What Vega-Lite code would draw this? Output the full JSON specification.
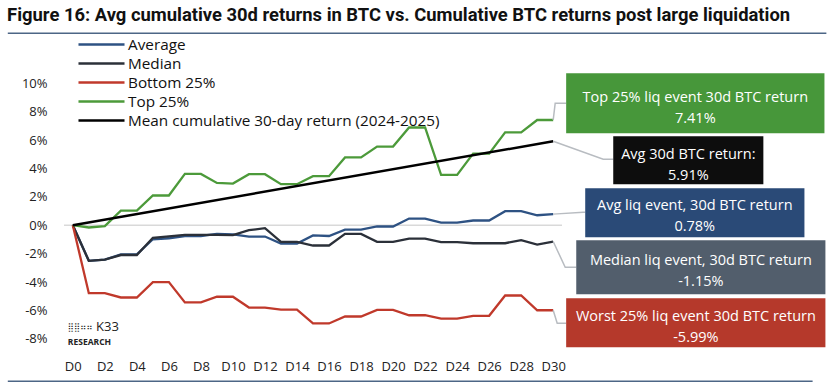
{
  "$schema": "https://vega.github.io/schema/vega-lite/v6.json",
  "width": 498,
  "height": 284,
  "autosize": {"type": "none"},
  "padding": {"left": 64, "top": 69, "right": 272, "bottom": 37},
  "background": "white",
  "title": {
    "text": "Figure 16: Avg cumulative 30d returns in BTC vs. Cumulative BTC returns post large liquidation",
    "anchor": "start",
    "frame": "bounds",
    "font": "Roboto",
    "fontSize": 18.4,
    "fontWeight": "bold",
    "color": "#111111",
    "offset": 8
  },
  "config": {
    "view": {"stroke": null},
    "font": "Open Sans",
    "axis": {"labelFont": "Open Sans", "labelFontSize": 13, "labelColor": "#222222", "labelOverlap": false}
  },
  "datasets": {
    "series": [
      {"day": 0, "Average": 0, "Median": 0, "Bottom 25%": 0, "Top 25%": 0},
      {"day": 1, "Average": -2.51, "Median": -2.51, "Bottom 25%": -4.79, "Top 25%": -0.16},
      {"day": 2, "Average": -2.42, "Median": -2.42, "Bottom 25%": -4.79, "Top 25%": -0.07},
      {"day": 3, "Average": -2.06, "Median": -2.1, "Bottom 25%": -5.09, "Top 25%": 1.03},
      {"day": 4, "Average": -2.06, "Median": -2.1, "Bottom 25%": -5.09, "Top 25%": 1.03},
      {"day": 5, "Average": -0.99, "Median": -0.89, "Bottom 25%": -4.01, "Top 25%": 2.09},
      {"day": 6, "Average": -0.92, "Median": -0.78, "Bottom 25%": -4.01, "Top 25%": 2.09},
      {"day": 7, "Average": -0.76, "Median": -0.68, "Bottom 25%": -5.44, "Top 25%": 3.61},
      {"day": 8, "Average": -0.76, "Median": -0.68, "Bottom 25%": -5.44, "Top 25%": 3.61},
      {"day": 9, "Average": -0.61, "Median": -0.68, "Bottom 25%": -5.04, "Top 25%": 2.98},
      {"day": 10, "Average": -0.65, "Median": -0.7, "Bottom 25%": -5.04, "Top 25%": 2.93},
      {"day": 11, "Average": -0.8, "Median": -0.35, "Bottom 25%": -5.8, "Top 25%": 3.59},
      {"day": 12, "Average": -0.8, "Median": -0.21, "Bottom 25%": -5.8, "Top 25%": 3.59},
      {"day": 13, "Average": -1.29, "Median": -1.17, "Bottom 25%": -5.94, "Top 25%": 2.89},
      {"day": 14, "Average": -1.29, "Median": -1.17, "Bottom 25%": -5.94, "Top 25%": 2.89},
      {"day": 15, "Average": -0.72, "Median": -1.43, "Bottom 25%": -6.92, "Top 25%": 3.45},
      {"day": 16, "Average": -0.76, "Median": -1.43, "Bottom 25%": -6.92, "Top 25%": 3.45},
      {"day": 17, "Average": -0.31, "Median": -0.61, "Bottom 25%": -6.43, "Top 25%": 4.77},
      {"day": 18, "Average": -0.31, "Median": -0.61, "Bottom 25%": -6.43, "Top 25%": 4.77},
      {"day": 19, "Average": -0.09, "Median": -1.17, "Bottom 25%": -5.96, "Top 25%": 5.54},
      {"day": 20, "Average": -0.09, "Median": -1.17, "Bottom 25%": -5.96, "Top 25%": 5.54},
      {"day": 21, "Average": 0.47, "Median": -0.94, "Bottom 25%": -6.34, "Top 25%": 6.88},
      {"day": 22, "Average": 0.47, "Median": -0.94, "Bottom 25%": -6.34, "Top 25%": 6.88},
      {"day": 23, "Average": 0.18, "Median": -1.19, "Bottom 25%": -6.58, "Top 25%": 3.54},
      {"day": 24, "Average": 0.18, "Median": -1.19, "Bottom 25%": -6.58, "Top 25%": 3.54},
      {"day": 25, "Average": 0.33, "Median": -1.27, "Bottom 25%": -6.38, "Top 25%": 5.04},
      {"day": 26, "Average": 0.33, "Median": -1.27, "Bottom 25%": -6.38, "Top 25%": 5.04},
      {"day": 27, "Average": 0.99, "Median": -1.27, "Bottom 25%": -4.95, "Top 25%": 6.54},
      {"day": 28, "Average": 0.99, "Median": -1.05, "Bottom 25%": -4.95, "Top 25%": 6.54},
      {"day": 29, "Average": 0.7, "Median": -1.36, "Bottom 25%": -5.99, "Top 25%": 7.41},
      {"day": 30, "Average": 0.78, "Median": -1.15, "Bottom 25%": -5.99, "Top 25%": 7.41}
    ],
    "mean": [
      {"day": 0, "series": "Mean cumulative 30-day return (2024-2025)", "ret": 0},
      {"day": 30, "series": "Mean cumulative 30-day return (2024-2025)", "ret": 5.91}
    ],
    "connectors": [
      {"key": "top", "day": 30, "ret": 7.41},
      {"key": "top", "day": 30.125, "ret": 8.59},
      {"key": "top", "day": 30.81, "ret": 8.59},
      {"key": "mean", "day": 30, "ret": 5.91},
      {"key": "mean", "day": 33.125, "ret": 4.65},
      {"key": "mean", "day": 33.75, "ret": 4.65},
      {"key": "avg", "day": 30, "ret": 0.78},
      {"key": "avg", "day": 31.875, "ret": 0.92},
      {"key": "avg", "day": 32, "ret": 0.92},
      {"key": "median", "day": 30, "ret": -1.15},
      {"key": "median", "day": 30.75, "ret": -2.96},
      {"key": "median", "day": 31.44, "ret": -2.96},
      {"key": "bottom", "day": 30, "ret": -5.99},
      {"key": "bottom", "day": 30.25, "ret": -6.9},
      {"key": "bottom", "day": 30.81, "ret": -6.9}
    ],
    "callouts": [
      {"key": "top", "label": ["Top 25% liq event 30d BTC return", "7.41%"], "x0": 30.81, "x1": 46.94, "y0": 10.7, "y1": 6.48, "xc": 38.875, "yc": 8.93},
      {"key": "mean", "label": ["Avg 30d BTC return:", "5.91%"], "x0": 33.75, "x1": 43.125, "y0": 6.27, "y1": 2.89, "xc": 38.44, "yc": 4.96},
      {"key": "avg", "label": ["Avg liq event, 30d BTC return", "0.78%"], "x0": 32.0, "x1": 45.69, "y0": 2.61, "y1": -0.85, "xc": 38.84, "yc": 1.34},
      {"key": "median", "label": ["Median liq event, 30d BTC return", "-1.15%"], "x0": 31.44, "x1": 47.0, "y0": -1.06, "y1": -4.86, "xc": 39.22, "yc": -2.54},
      {"key": "bottom", "label": ["Worst 25% liq event 30d BTC return", "-5.99%"], "x0": 30.81, "x1": 47.0, "y0": -5.14, "y1": -8.59, "xc": 38.91, "yc": -6.47}
    ]
  },
  "layer": [
    {
      "data": {"values": [{}]},
      "mark": {"type": "rule", "color": "#4d6686", "strokeWidth": 1.5, "clip": false},
      "encoding": {"x": {"datum": -4.06}, "x2": {"datum": 47.06}, "y": {"datum": 13.52}}
    },
    {
      "data": {"values": [{}]},
      "mark": {"type": "rule", "color": "#4d6686", "strokeWidth": 1.5, "clip": false},
      "encoding": {"x": {"datum": -4.06}, "x2": {"datum": 46.2}, "y": {"datum": -10.99}}
    },
    {
      "data": {"values": [{}]},
      "mark": {"type": "rule", "color": "#d9d9d9", "strokeWidth": 1.5},
      "encoding": {"y": {"datum": 0}}
    },
    {
      "data": {"name": "series"},
      "transform": [{"fold": ["Average", "Median", "Bottom 25%", "Top 25%"], "as": ["series", "ret"]}],
      "mark": {"type": "line", "strokeWidth": 2.3, "clip": false},
      "encoding": {
        "x": {
          "field": "day", "type": "quantitative",
          "scale": {"domain": [-0.55, 30.55], "nice": false, "zero": false},
          "axis": {"values": [0, 2, 4, 6, 8, 10, 12, 14, 16, 18, 20, 22, 24, 26, 28, 30], "tickCount": 40, "labelExpr": "'D' + datum.value", "title": null, "domain": false, "ticks": false, "grid": false, "labelPadding": 7, "labelOverlap": false, "labelFlush": false, "labelBound": false}
        },
        "y": {
          "field": "ret", "type": "quantitative",
          "scale": {"domain": [-9, 11], "nice": false, "zero": false},
          "axis": {"values": [-8, -6, -4, -2, 0, 2, 4, 6, 8, 10], "tickCount": 40, "labelExpr": "datum.value + '%'", "title": null, "domain": false, "ticks": false, "grid": false, "labelPadding": 17, "labelOverlap": false, "labelFlush": false, "labelBound": false}
        },
        "color": {
          "field": "series", "type": "nominal",
          "scale": {
            "domain": ["Average", "Median", "Bottom 25%", "Top 25%", "Mean cumulative 30-day return (2024-2025)"],
            "range": ["#2e5283", "#2b3039", "#c0392b", "#4c9a3a", "#000000"]
          },
          "legend": {
            "title": null, "orient": "none", "legendX": 27, "legendY": -35,
            "symbolType": "M-2.5,0H2.5", "symbolSize": 339, "symbolStrokeWidth": 2.5, "symbolFillColor": "transparent",
            "labelFontSize": 15.3, "labelColor": "#111111", "labelFont": "Open Sans",
            "labelOffset": 16, "labelLimit": 400, "padding": 0, "rowPadding": 0
          }
        }
      }
    },
    {
      "data": {"name": "mean"},
      "mark": {"type": "line", "strokeWidth": 2.5, "clip": false},
      "encoding": {
        "x": {"field": "day", "type": "quantitative"},
        "y": {"field": "ret", "type": "quantitative"},
        "color": {"field": "series", "type": "nominal"}
      }
    },
    {
      "data": {"name": "connectors"},
      "mark": {"type": "line", "color": "#b8bcc1", "strokeWidth": 1.5, "clip": false},
      "encoding": {
        "x": {"field": "day", "type": "quantitative"},
        "y": {"field": "ret", "type": "quantitative"},
        "detail": {"field": "key", "type": "nominal"}
      }
    },
    {
      "data": {"name": "callouts"},
      "mark": {"type": "rect", "clip": false},
      "encoding": {
        "x": {"field": "x0", "type": "quantitative"},
        "x2": {"field": "x1"},
        "y": {"field": "y0", "type": "quantitative"},
        "y2": {"field": "y1"},
        "fill": {
          "field": "key", "type": "nominal",
          "scale": {"domain": ["top", "mean", "avg", "median", "bottom"], "range": ["#47973a", "#0d0d0d", "#2a4a77", "#525e6c", "#b5392b"]},
          "legend": null
        }
      }
    },
    {
      "data": {"name": "callouts"},
      "mark": {"type": "text", "clip": false, "color": "white", "fontSize": 14.5, "font": "Open Sans", "lineHeight": 21, "align": "center", "baseline": "middle"},
      "encoding": {
        "x": {"field": "xc", "type": "quantitative"},
        "y": {"field": "yc", "type": "quantitative"},
        "text": {"field": "label"}
      }
    },
    {
      "data": {"values": [{}]},
      "mark": {"type": "text", "font": "DejaVu Sans", "fontSize": 8.5, "align": "left", "baseline": "middle", "color": "#222222", "clip": false},
      "encoding": {"x": {"datum": -0.31}, "y": {"datum": -7.2}, "text": {"value": "⣿⣿⠶⠶"}}
    },
    {
      "data": {"values": [{}]},
      "mark": {"type": "text", "font": "Open Sans", "fontSize": 13, "align": "left", "baseline": "middle", "color": "#222222", "clip": false},
      "encoding": {"x": {"datum": 1.45}, "y": {"datum": -7.15}, "text": {"value": "K33"}}
    },
    {
      "data": {"values": [{}]},
      "mark": {"type": "text", "font": "Open Sans", "fontSize": 8.5, "fontWeight": "bold", "letterSpacing": 1.2, "align": "left", "baseline": "middle", "color": "#222222", "clip": false},
      "encoding": {"x": {"datum": -0.31}, "y": {"datum": -8.25}, "text": {"value": "RESEARCH"}}
    }
  ]
}
